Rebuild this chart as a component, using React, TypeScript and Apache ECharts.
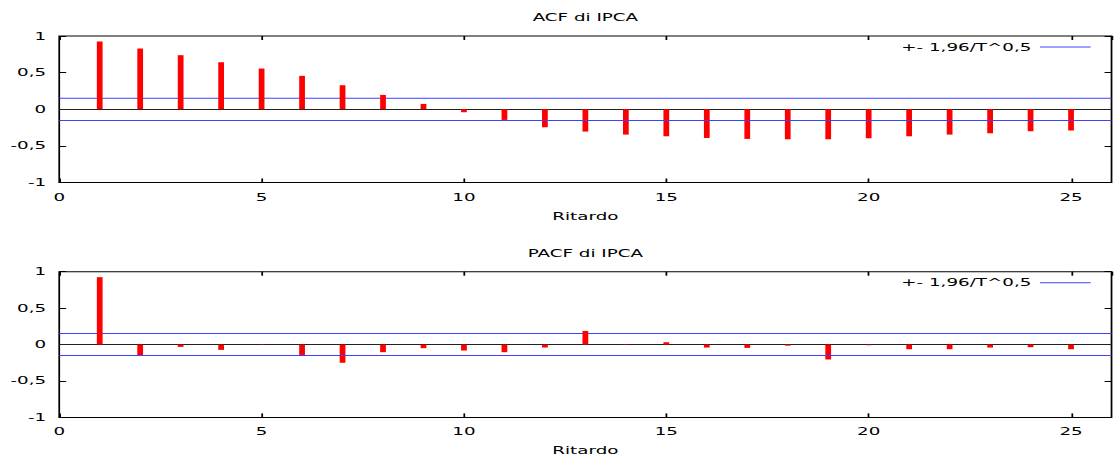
import { useEffect, useRef } from 'react';
import * as echarts from 'echarts';

// Correlogram of IPCA: autocorrelation and partial autocorrelation by lag
const lags = [1, 2, 3, 4, 5, 6, 7, 8, 9, 10, 11, 12, 13, 14, 15, 16, 17, 18, 19, 20, 21, 22, 23, 24, 25];
const acfValues = [
  0.925, 0.829, 0.738, 0.642, 0.556, 0.456, 0.328, 0.196, 0.073, -0.041,
  -0.146, -0.246, -0.305, -0.346, -0.369, -0.392, -0.405, -0.41, -0.41, -0.396,
  -0.369, -0.346, -0.328, -0.3, -0.29,
];
const pacfValues = [
  0.925, -0.15, -0.032, -0.073, 0.004, -0.155, -0.25, -0.105, -0.05, -0.082,
  -0.105, -0.041, 0.187, -0.005, 0.032, -0.041, -0.046, -0.015, -0.205, -0.009,
  -0.064, -0.064, -0.041, -0.036, -0.064,
];
const confidenceBand = 0.15;
const bandLabel = '+- 1,96/T^0,5';
const panelTitles = ['ACF di IPCA', 'PACF di IPCA'];
const bandSeriesNames = ['band-acf', 'band-pacf'];
const xAxisName = 'Ritardo';
const xRange = [0, 26];
const yRange = [-1, 1];

// The plot is laid out at 640 px and stretched horizontally to the page width
const BASE_W = 640;
const PAGE_W = 1115;
const PAGE_H = 460;
const FONT = 'DejaVu Sans';
const FS = 10.5;
const GRID_LEFT = 34;
const GRID_W = 604;
const GRID_TOPS = [36, 271.7];
const GRID_H = [146.5, 145.7];
const BAND_COLOR = '#4040ff';

export default function App() {
  const ref = useRef<HTMLDivElement>(null);

  useEffect(() => {
    const el = ref.current;
    if (!el) return;
    const chart = echarts.init(el, undefined, { renderer: 'svg', width: BASE_W, height: PAGE_H });

    const panels = [acfValues, pacfValues];
    const textStyle = { fontFamily: FONT, fontSize: FS, color: '#000' };

    const grid: any[] = [];
    const xAxis: any[] = [];
    const yAxis: any[] = [];
    const series: any[] = [];
    const legend: any[] = [];
    const graphic: any[] = [];

    panels.forEach((values, i) => {
      grid.push({
        left: GRID_LEFT,
        width: GRID_W,
        top: GRID_TOPS[i],
        height: GRID_H[i],
        show: true,
        borderColor: '#000',
        borderWidth: 1,
        backgroundColor: 'transparent',
      });

      const tickStyle = { show: true, inside: true, length: 4, lineStyle: { color: '#000', width: 1 } };

      // bottom axis with labels and name, top axis mirrors the ticks
      xAxis.push({
        type: 'value',
        gridIndex: i,
        position: 'bottom',
        min: xRange[0],
        max: xRange[1],
        interval: 5,
        axisLine: { show: false, onZero: false },
        axisTick: tickStyle,
        splitLine: { show: false },
        axisLabel: { ...textStyle, margin: 9, showMaxLabel: false },
        name: xAxisName,
        nameLocation: 'middle',
        nameGap: 28,
        nameTextStyle: textStyle,
      });
      xAxis.push({
        type: 'value',
        gridIndex: i,
        position: 'top',
        min: xRange[0],
        max: xRange[1],
        interval: 5,
        axisLine: { show: false, onZero: false },
        axisTick: tickStyle,
        splitLine: { show: false },
        axisLabel: { show: false },
      });

      yAxis.push({
        type: 'value',
        gridIndex: i,
        position: 'left',
        min: yRange[0],
        max: yRange[1],
        interval: 0.5,
        axisLine: { show: false, onZero: false },
        axisTick: tickStyle,
        splitLine: { show: false },
        axisLabel: {
          ...textStyle,
          margin: 7.5,
          formatter: (v: number) => String(v).replace('.', ','),
        },
      });
      yAxis.push({
        type: 'value',
        gridIndex: i,
        position: 'right',
        min: yRange[0],
        max: yRange[1],
        interval: 0.5,
        axisLine: { show: false, onZero: false },
        axisTick: tickStyle,
        splitLine: { show: false },
        axisLabel: { show: false },
      });

      const xi = i * 2;
      const yi = i * 2;

      series.push({
        type: 'bar',
        name: panelTitles[i],
        xAxisIndex: xi,
        yAxisIndex: yi,
        barWidth: 3.3,
        itemStyle: { color: '#ff0000' },
        data: lags.map((lag, k) => [lag, values[k]]),
        markLine: {
          silent: true,
          symbol: ['none', 'none'],
          label: { show: false },
          lineStyle: { color: '#222', width: 1, type: 'solid' },
          data: [{ yAxis: 0 }],
          z: 1,
        },
        z: 3,
      });

      // confidence limits: the legend entry carries both horizontal limits
      series.push({
        type: 'line',
        name: bandSeriesNames[i],
        xAxisIndex: xi,
        yAxisIndex: yi,
        symbol: 'none',
        showSymbol: false,
        color: BAND_COLOR,
        lineStyle: { color: BAND_COLOR, width: 1, opacity: 1 },
        itemStyle: { color: BAND_COLOR },
        emphasis: { disabled: true },
        data: [
          [xRange[0], confidenceBand],
          [xRange[1], confidenceBand],
        ],
        markLine: {
          silent: true,
          symbol: ['none', 'none'],
          label: { show: false },
          lineStyle: { color: BAND_COLOR, width: 1, type: 'solid', opacity: 1 },
          emphasis: { disabled: true },
          data: [{ yAxis: -confidenceBand }],
        },
        z: 2,
      });

      legend.push({
        data: [bandSeriesNames[i]],
        formatter: () => bandLabel,
        right: 14,
        top: GRID_TOPS[i] + 5.5,
        padding: 0,
        align: 'right',
        icon: 'rect',
        itemWidth: 29,
        itemHeight: 1,
        itemStyle: { color: BAND_COLOR },
        textStyle,
        selectedMode: false,
      });

      graphic.push({
        type: 'text',
        x: GRID_LEFT + GRID_W / 2,
        y: GRID_TOPS[i] - 18.5,
        style: {
          text: panelTitles[i],
          align: 'center',
          verticalAlign: 'middle',
          font: `${FS}px "${FONT}"`,
          fill: '#000',
        },
      });
    });

    chart.setOption({
      animation: false,
      backgroundColor: '#fff',
      textStyle: { fontFamily: FONT },
      grid,
      xAxis,
      yAxis,
      series,
      legend,
      graphic,
    });

    // stretch the rendered svg horizontally over the full page width
    const stretch = () => {
      const svg = el.querySelector('svg');
      if (!svg) return;
      svg.setAttribute('viewBox', `0 0 ${BASE_W} ${PAGE_H}`);
      svg.setAttribute('preserveAspectRatio', 'none');
      svg.setAttribute('width', String(PAGE_W));
      svg.style.width = `${PAGE_W}px`;
      const inner = svg.parentElement as HTMLElement | null;
      if (inner && inner !== el) inner.style.width = `${PAGE_W}px`;
    };
    stretch();
    chart.on('finished', stretch);
    const raf = requestAnimationFrame(stretch);

    return () => {
      cancelAnimationFrame(raf);
      chart.dispose();
    };
  }, []);

  return (
    <div
      ref={ref}
      style={{
        position: 'absolute',
        left: 0,
        top: 0,
        width: PAGE_W,
        height: PAGE_H,
      }}
    />
  );
}
